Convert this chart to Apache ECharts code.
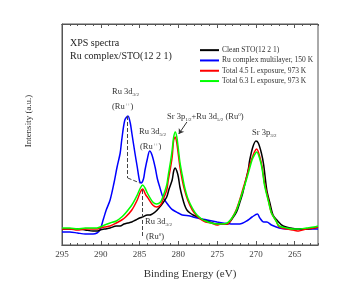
<!DOCTYPE html>
<html><head><meta charset="utf-8">
<script src="https://cdn.jsdelivr.net/npm/echarts@6/dist/echarts.min.js"></script>
<style>html,body{margin:0;padding:0;background:#fff}#c{width:340px;height:302px}</style>
</head><body><div id="c"></div>
<script>
// Binding energy (eV) / intensity (a.u.) pairs
const cleanSTO = [[295,16],[294,16],[293,16],[292,15],[291,14],[290.5,14],[290.1,15],[289.5,16],[288.8,17],[288,19],[287.5,19],[287,21],[286.5,22],[286,23],[285.5,25],[285,27],[284.6,28],[284,30],[283.7,30],[283,33],[282.4,38],[282,42],[281.5,48],[281.2,56],[280.8,65],[280.6,74],[280.4,77],[280.2,74],[280,68],[279.8,58],[279.5,48],[279.2,40],[278.9,35],[278.5,32],[278.1,30],[277.5,28],[276.8,25],[276,23],[275,21],[274,21],[273.7,21],[273,27],[272.5,33],[272.1,42],[271.7,52],[271.4,62],[271,75],[270.8,85],[270.4,98],[270,104],[269.7,102],[269.3,92],[269,80],[268.6,55],[268.2,42],[267.8,30],[267.3,25],[266.5,19],[265.5,17],[264.7,16],[263.5,16],[262,18]];
const ruMultilayer = [[295,13],[294,13],[293,12],[292,11],[291,11],[290.5,12],[290.1,15],[289.7,25],[289.3,35],[288.8,45],[288.3,62],[287.9,78],[287.5,92],[287.3,105],[286.9,125],[286.5,129],[286.2,122],[286,112],[285.6,92],[285.3,78],[285,64],[284.8,62],[284.5,66],[284.3,75],[284,86],[283.7,94],[283.4,90],[283,78],[282.7,66],[282.4,58],[282,48],[281.5,42],[281,37],[280.7,35],[280,32],[279.5,30],[278.5,29],[278.1,28],[277,26],[276.3,25],[275,23],[274.3,22],[273,21],[272.1,21],[271,25],[270.5,28],[269.8,31],[269.5,27],[269,23],[268.6,23],[268,20],[267,17],[266,16],[265.2,16],[264,16],[263,16],[262,16]];
const exposure45 = [[295,16],[294,16],[293,15],[292,16],[291,16],[290.5,16],[290.1,17],[289.5,18],[288.8,19],[288,22],[287.3,25],[286.8,28],[286,35],[285.3,45],[284.9,53],[284.6,56],[284.2,50],[284,48],[283.3,40],[282.8,38],[282.3,40],[282,45],[281.5,55],[281.3,65],[281,78],[280.8,88],[280.6,105],[280.4,108],[280.2,102],[280,90],[279.8,78],[279.5,65],[279.2,55],[278.8,45],[278.2,35],[277.6,29],[277,25],[276.5,23],[275.8,22],[275,20],[274.5,21],[273.7,21],[273,28],[272.5,36],[272.1,45],[271.6,58],[271.2,68],[270.8,80],[270.5,87],[270.2,93],[269.9,96],[269.5,88],[269.2,78],[268.9,62],[268.4,45],[268,32],[267.4,24],[267,18],[266,16],[265.2,15],[264.5,14],[263.5,16],[262.5,17],[262,18]];
const exposure63 = [[295,17],[294,17],[293,16],[292,17],[291,17],[290.5,17],[290.1,18],[289.5,20],[288.8,22],[288,24],[287.3,28],[286.8,32],[286,40],[285.3,50],[284.9,57],[284.6,60],[284.3,57],[284,52],[283.3,43],[282.8,41],[282.3,43],[282,48],[281.5,60],[281.3,70],[281,84],[280.8,95],[280.6,108],[280.4,113],[280.2,108],[280,96],[279.8,83],[279.5,70],[279.2,58],[278.8,47],[278.2,37],[277.6,30],[277,26],[276.5,24],[275.8,22],[275,21],[274.5,21],[273.7,22],[273,28],[272.5,35],[272.1,44],[271.6,56],[271.2,66],[270.8,77],[270.5,85],[270.2,90],[269.9,93],[269.5,86],[269.2,76],[268.9,60],[268.4,44],[268,32],[267.4,24],[267,19],[266,17],[265.2,16],[264.5,16],[263.5,17],[262.5,18],[262,19]];
const seriesNames = ['Clean STO(12 2 1)','Ru complex multilayer, 150 K','Total 4.5 L exposure, 973 K','Total 6.3 L exposure, 973 K'];
const majorTicks = [295,290,285,280,275,270,265];

const FONT = '"Liberation Serif","Times New Roman",serif';
const chart = echarts.init(document.getElementById('c'), null, {renderer:'canvas'});
const baseAxis = (pos, major, labels) => ({
  type:'value', gridIndex:0, position:pos, min:262, max:295, inverse:true,
  interval:1,
  axisLine:{show:true, lineStyle:{color:'#555', width:1}},
  axisTick:major ? {show:true, inside:true, length:4, customValues:majorTicks, lineStyle:{color:'#555'}}
                 : {show:true, inside:true, length:2, lineStyle:{color:'#555'}},
  axisLabel:labels ? {show:true, customValues:majorTicks, fontFamily:FONT, fontSize:9, color:'#444', margin:5} : {show:false},
  splitLine:{show:false}
});
const xb = baseAxis('bottom', true, true);
xb.name = 'Binding Energy (eV)';
xb.nameLocation = 'middle';
xb.nameGap = 24;
xb.nameTextStyle = {fontFamily:FONT, fontSize:11, color:'#333'};

const dash = {type:'dashed', color:'#444', width:1};
const rich = {
  n:{fontFamily:FONT, fontSize:8.5, color:'#333', lineHeight:12},
  s:{fontFamily:FONT, fontSize:5, color:'#333', lineHeight:12, padding:[5,0,0,0]},
  u:{fontFamily:FONT, fontSize:5, color:'#333', lineHeight:12, padding:[0,0,5,0]}
};
const txt = (x, y, t) => ({type:'text', style:{x, y, text:t, rich, verticalAlign:'middle', fontFamily:FONT, fontSize:8.5, fill:'#333'}});

chart.setOption({
  animation:false,
  grid:{left:62, top:24, right:22, bottom:57, show:true, borderColor:'#555', borderWidth:1, backgroundColor:'transparent'},
  xAxis:[baseAxis('bottom', false, false), xb, baseAxis('top', false, false), baseAxis('top', true, false)],
  yAxis:{type:'value', min:0, max:221, axisLine:{show:true, lineStyle:{color:'#555'}}, axisTick:{show:false}, axisLabel:{show:false}, splitLine:{show:false}},
  legend:{
    orient:'vertical', left:195, top:40, itemWidth:19, itemHeight:2, itemGap:0,
    icon:'rect',
    textStyle:{fontFamily:FONT, fontSize:7.5, color:'#333', lineHeight:10.3, padding:[0,0,0,-2]},
    data:seriesNames
  },
  series:[
    {name:seriesNames[1], type:'line', data:ruMultilayer, showSymbol:false, smooth:0.3, lineStyle:{color:'#0000ff', width:1.5}, itemStyle:{color:'#0000ff'},
      markLine:{silent:true, symbol:'none', label:{show:false}, lineStyle:dash, data:[
        [{coord:[286.53,129]},{coord:[286.53,67]}],
        [{coord:[286.53,67]},{coord:[284.95,62]}],
        [{coord:[284.65,55]},{coord:[284.65,8]}]
      ]}},
    {name:seriesNames[0], type:'line', data:cleanSTO, showSymbol:false, smooth:0.3, lineStyle:{color:'#000000', width:1.5}, itemStyle:{color:'#000000'}},
    {name:seriesNames[2], type:'line', data:exposure45, showSymbol:false, smooth:0.3, lineStyle:{color:'#ff0000', width:1.5}, itemStyle:{color:'#ff0000'}},
    {name:seriesNames[3], type:'line', data:exposure63, showSymbol:false, smooth:0.3, lineStyle:{color:'#00ff00', width:1.5}, itemStyle:{color:'#00ff00'},
      markLine:{silent:true, symbol:['none','arrow'], symbolSize:5, label:{show:false}, lineStyle:{type:'solid', color:'#333', width:1}, data:[
        [{coord:[278.9,123]},{coord:[279.95,111]}]
      ]}}
  ],
  graphic:[
    {type:'text', style:{x:70, y:43, text:'XPS spectra', verticalAlign:'middle', fontFamily:FONT, fontSize:10, fill:'#222'}},
    {type:'text', style:{x:70, y:56, text:'Ru complex/STO(12 2 1)', verticalAlign:'middle', fontFamily:FONT, fontSize:10, fill:'#222'}},
    {type:'text', rotation:Math.PI/2, x:29, y:121, style:{x:0, y:0, text:'Intensity (a.u.)', align:'center', verticalAlign:'middle', fontFamily:FONT, fontSize:9, fill:'#333'}},
    txt(112, 92, '{n|Ru 3d}{s|3/2}'),
    txt(112, 107, '{n|(Ru}{u|++}{n|)}'),
    txt(139, 132, '{n|Ru 3d}{s|5/2}'),
    txt(140, 147, '{n|(Ru}{u|++}{n|)}'),
    txt(167, 117, '{n|Sr 3p}{s|1/2}{n|+Ru 3d}{s|5/2}{n| (Ru}{u|0}{n|)}'),
    txt(252, 133, '{n|Sr 3p}{s|3/2}'),
    txt(145, 222, '{n|Ru 3d}{s|3/2}'),
    txt(146, 237, '{n|(Ru}{u|0}{n|)}')
  ]
});
</script></body></html>
